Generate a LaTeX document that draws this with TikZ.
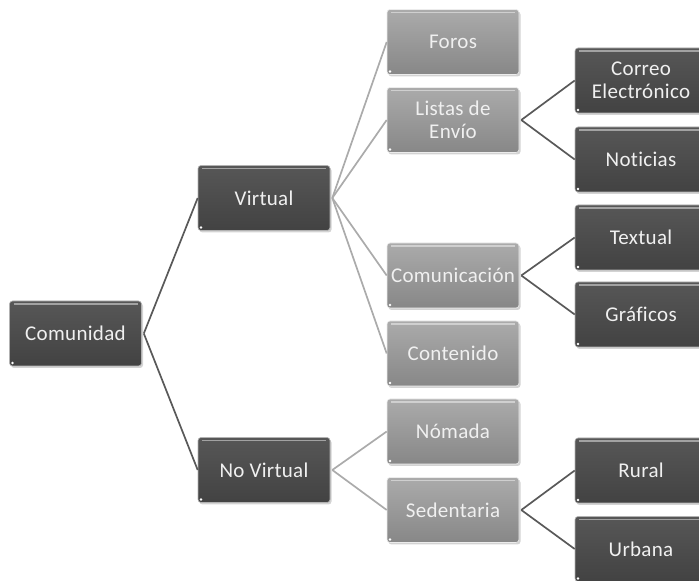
\documentclass[tikz,border=0pt]{standalone}
\usepackage{fontspec}
\setmainfont{Carlito}[Ligatures=NoCommon, LetterSpace=1.5]
\usetikzlibrary{shadows}
\begin{document}
\begin{tikzpicture}[x=1pt,y=1pt,
  boxbase/.style={rectangle, rounded corners=3pt, minimum width=132pt,
    minimum height=65pt, inner sep=1pt, align=center, text=white!94!black,
    font=\fontsize{21}{22.5}\selectfont,
    drop shadow={opacity=0.35, shadow xshift=1.5pt, shadow yshift=-2pt},
    path picture={
      \draw[white, opacity=0.45, line width=1.6pt]
        ([xshift=4pt,yshift=-3pt]path picture bounding box.north west) --
        ([xshift=-4pt,yshift=-3pt]path picture bounding box.north east);
      \fill[white] ([xshift=3pt,yshift=3pt]path picture bounding box.south west) circle (1.3pt);
    }},
  darkbox/.style={boxbase, draw=gray!60, line width=0.6pt,
    top color=black!66, bottom color=black!74},
  lightbox/.style={boxbase, draw=white!85!gray, line width=0.6pt,
    top color=black!33, bottom color=black!47},
  darkline/.style={draw=black!65, line width=1.7pt},
  lightline/.style={draw=black!33, line width=1.7pt}
]
\useasboundingbox (0,0) rectangle (699,581);
\begin{scope}
\clip (0,0) rectangle (699,581);

% root and first level
\node[darkbox] (com) at (75.5,247.5) {Comunidad};
\node[darkbox] (vir) at (264,383) {Virtual};
\node[darkbox] (nov) at (264,111) {No Virtual};

% second level
\node[lightbox] (foros)  at (453,539)   {Foros};
\node[lightbox] (listas) at (453,461)   {Listas de\\Envío};
\node[lightbox] (comun)  at (453,305.5) {Comunicación};
\node[lightbox] (cont)   at (453,227.5) {Contenido};
\node[lightbox] (nom)    at (453,149.5) {Nómada};
\node[lightbox] (sed)    at (453,71)    {Sedentaria};

% third level
\node[darkbox] (correo) at (641,500.5) {Correo\\Electrónico};
\node[darkbox] (noti)   at (641,421.5) {Noticias};
\node[darkbox] (text)   at (641,343.5) {Textual};
\node[darkbox] (graf)   at (641,266.5) {Gráficos};
\node[darkbox] (rural)  at (641,110.5) {Rural};
\node[darkbox] (urb)    at (641,32)    {Urbana};

% connectors
\draw[darkline] ([xshift=2pt]com.east) -- (vir.west);
\draw[darkline] ([xshift=2pt]com.east) -- (nov.west);

\draw[lightline] ([xshift=2pt]vir.east) -- (foros.west);
\draw[lightline] ([xshift=2pt]vir.east) -- (listas.west);
\draw[lightline] ([xshift=2pt]vir.east) -- (comun.west);
\draw[lightline] ([xshift=2pt]vir.east) -- (cont.west);

\draw[lightline] ([xshift=2pt]nov.east) -- (nom.west);
\draw[lightline] ([xshift=2pt]nov.east) -- (sed.west);

\draw[darkline] ([xshift=2pt]listas.east) -- (correo.west);
\draw[darkline] ([xshift=2pt]listas.east) -- (noti.west);
\draw[darkline] ([xshift=2pt]comun.east) -- (text.west);
\draw[darkline] ([xshift=2pt]comun.east) -- (graf.west);
\draw[darkline] ([xshift=2pt]sed.east) -- (rural.west);
\draw[darkline] ([xshift=2pt]sed.east) -- (urb.west);
\end{scope}
\end{tikzpicture}
\end{document}
